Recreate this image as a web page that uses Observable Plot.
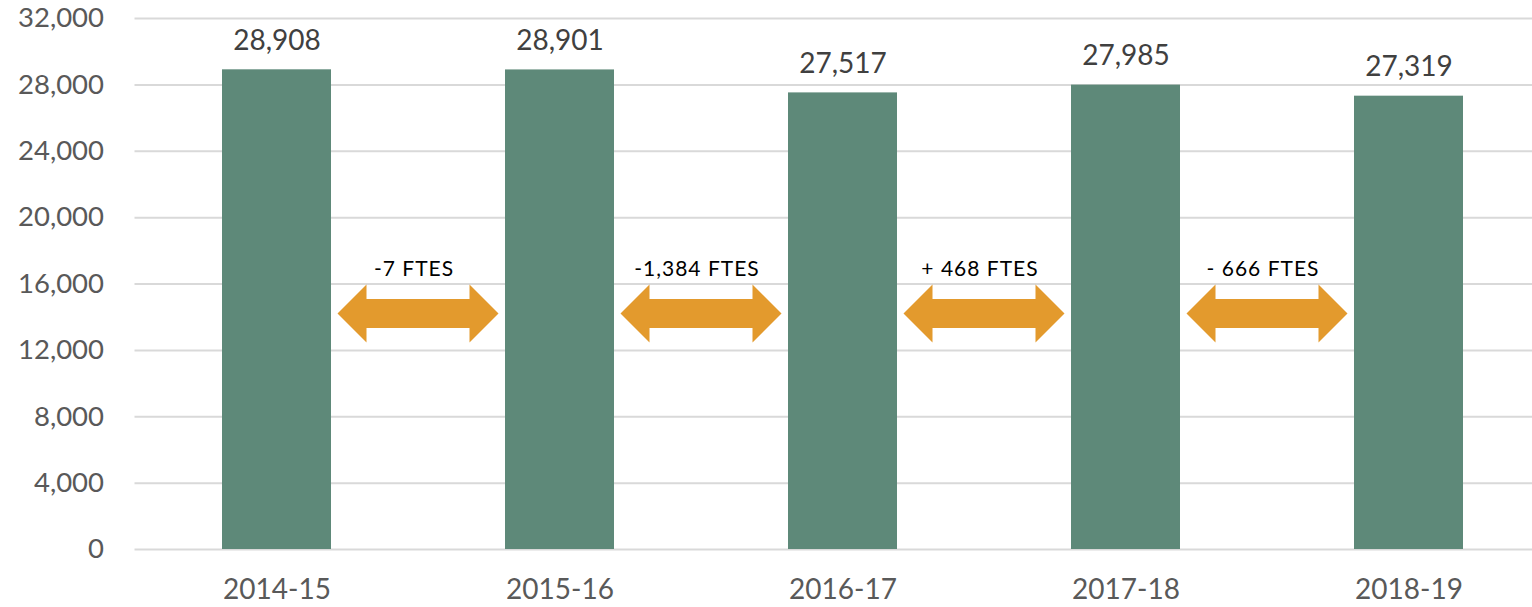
<!DOCTYPE html>
<html>
<head>
<meta charset="utf-8">
<script src="https://cdn.jsdelivr.net/npm/d3@7"></script>
<script src="https://cdn.jsdelivr.net/npm/@observablehq/plot@0.6"></script>
<style>
  html, body { margin: 0; padding: 0; background: #ffffff; }
  #chart svg { display: block; }
</style>
</head>
<body>
<div id="chart"></div>
<script>
// ---- data ----
const years = ["2014-15", "2015-16", "2016-17", "2017-18", "2018-19"];
const ftes = [28908, 28901, 27517, 27985, 27319];
const changeLabels = ["-7 FTES", "-1,384 FTES", "+ 468 FTES", "- 666 FTES"];
const yTicks = [0, 4000, 8000, 12000, 16000, 20000, 24000, 28000, 32000];

// ---- layout constants ----
const W = 1532, H = 607;
const arrowLevel = 14190; // value level at which change arrows sit

const data = years.map((year, i) => ({year, value: ftes[i]}));
const fmt = d3.format(",");

const chart = Plot.plot({
  width: W,
  height: H,
  marginLeft: 134.5,
  marginRight: 0,
  marginTop: 18,
  marginBottom: 58,
  style: {fontFamily: "Lato, 'Open Sans', sans-serif", fontSize: "28px", color: "#595959", background: "#ffffff"},
  x: {domain: years, range: [134.5, 1551], paddingInner: 0.615, paddingOuter: 0.3075, align: 0.5, label: null},
  y: {domain: [0, 32000], label: null},
  marks: [
    Plot.gridY(yTicks, {stroke: "#d9d9d9", strokeOpacity: 1, strokeWidth: 2}),
    Plot.axisY(yTicks, {tickSize: 0, tickPadding: 31, tickFormat: fmt, fill: "#595959", fontSize: 27.5, label: null}),
    Plot.axisX({tickSize: 0, tickPadding: 30, fill: "#595959", fontSize: 28, label: null}),
    Plot.barY(data, {x: "year", y: "value", fill: "#5e8979"}),
    Plot.text(data, {x: "year", y: "value", text: d => fmt(d.value), dy: -29, fill: "#404040", fontSize: 28})
  ]
});

document.getElementById("chart").appendChild(chart);

// change arrows between consecutive bars, positioned through Plot's scales
const xs = chart.scale("x");
const ys = chart.scale("y");
const bw = xs.bandwidth;
const svg = d3.select(chart);
const g = svg.append("g").attr("class", "change-arrows");
const hw = 80.5, hl = 29, sh = 14.5, hh = 29;
const arrowPts = [[-hw,0],[-hw+hl,-hh],[-hw+hl,-sh],[hw-hl,-sh],[hw-hl,-hh],[hw,0],[hw-hl,hh],[hw-hl,sh],[-hw+hl,sh],[-hw+hl,hh]];
changeLabels.forEach((label, i) => {
  const cx = (xs.apply(years[i]) + xs.apply(years[i + 1])) / 2 + bw / 2;
  const cy = ys.apply(arrowLevel);
  g.append("polygon")
    .attr("points", arrowPts.map(([x, y]) => `${cx + x},${cy + y}`).join(" "))
    .attr("fill", "#e39a2d");
  g.append("text")
    .attr("x", cx - 4)
    .attr("y", cy - 45)
    .attr("dy", "0.35em")
    .attr("text-anchor", "middle")
    .attr("font-family", "Lato, 'Open Sans', sans-serif")
    .attr("font-size", 21)
    .attr("letter-spacing", "1px")
    .attr("fill", "#000000")
    .text(label);
});
</script>
</body>
</html>
